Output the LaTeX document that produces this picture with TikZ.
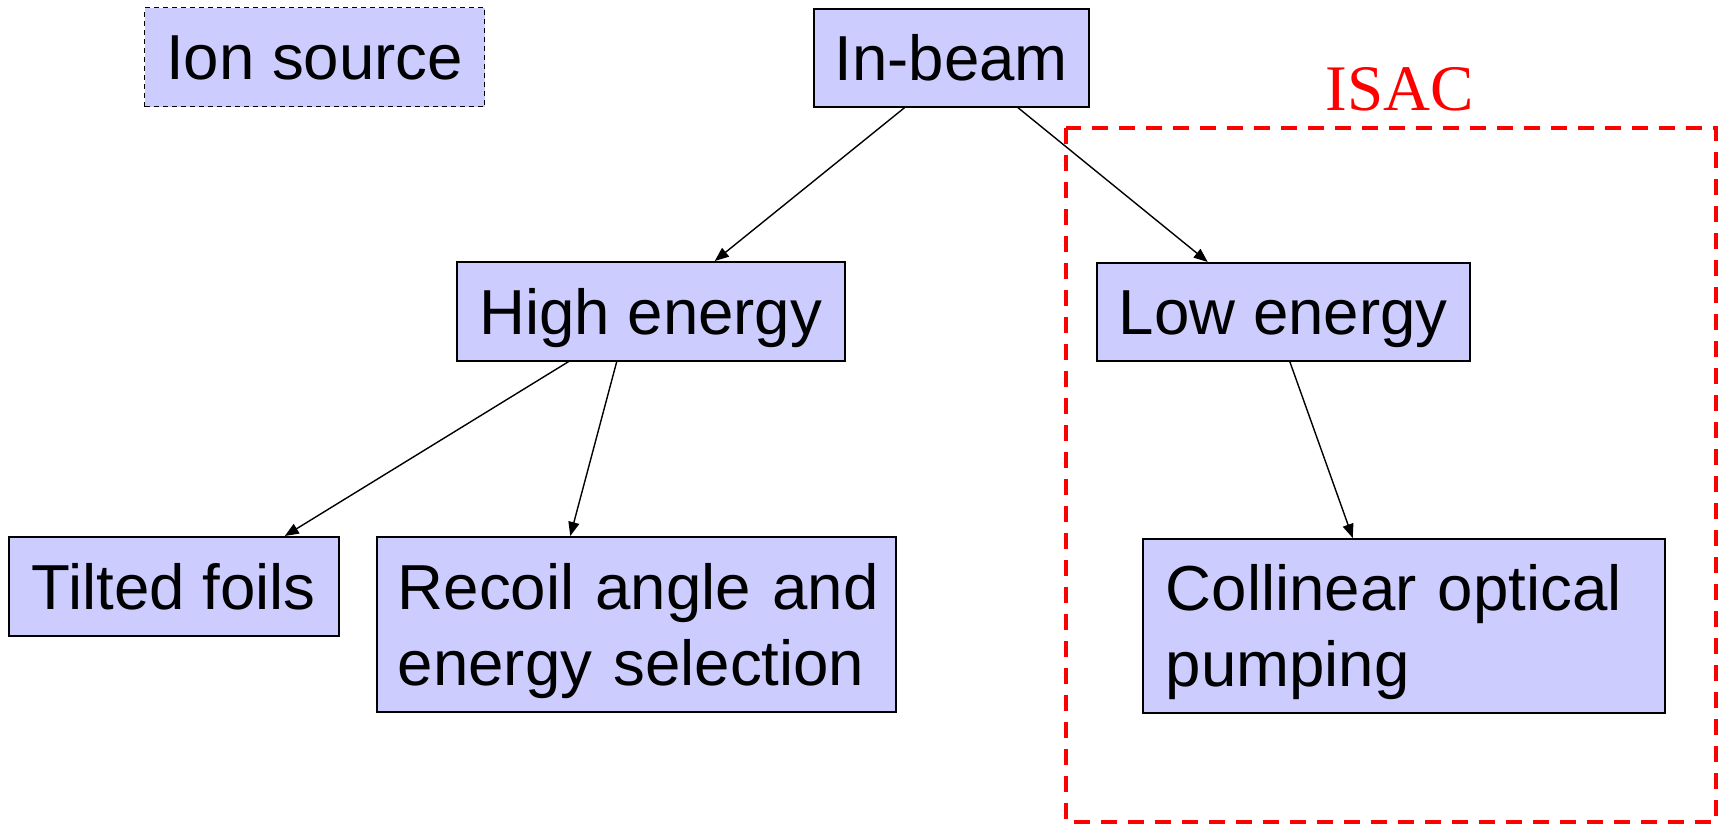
\documentclass[tikz,border=0pt]{standalone}
\usepackage{fontspec}
\setmainfont{Liberation Sans}
\newfontfamily\isacfont{Liberation Serif}
\usetikzlibrary{arrows.meta}
\definecolor{boxfill}{HTML}{CCCCFF}
\definecolor{isacred}{HTML}{FF0000}
\tikzset{
  boxnode/.style={draw=black, line width=0.75pt, fill=boxfill,
    font=\fontsize{31.8}{38}\selectfont, text height=22.8pt, text depth=0pt,
    inner sep=0pt, anchor=north west},
  twoline/.style={text depth=38pt, align=left},
  arr/.style={draw=black, line width=0.7pt, -{Triangle[length=7pt,width=5.5pt]}},
  isacbox/.style={draw=isacred, line width=1.6pt, dash pattern=on 8pt off 5.5pt},
}
\begin{document}
\begin{tikzpicture}[x=0.5pt,y=-0.5pt]
\useasboundingbox (0,0) rectangle (1722,825);
\node[boxnode, dash pattern=on 2.5pt off 2pt, line width=0.65pt, minimum width=170pt, minimum height=49.5pt] (ion) at (144,7) {Ion source};
\node[boxnode, minimum width=137.5pt, minimum height=49pt] (inbeam) at (813,8) {In-beam};
\node[boxnode, minimum width=194pt, minimum height=49.5pt] (high) at (456,261) {High energy};
\node[boxnode, minimum width=186.5pt, minimum height=49pt] (low) at (1096,262) {Low energy};
\node[boxnode, minimum width=165pt, minimum height=49.5pt] (tilted) at (8,536) {Tilted foils};
\node[boxnode, twoline, minimum width=259.5pt, minimum height=87.5pt, text width=259.5pt] (recoil) at (376,536) {\hspace*{10.5pt}Recoil angle and\\\hspace*{10.5pt}energy selection};
\node[boxnode, twoline, minimum width=261pt, minimum height=87pt, text width=261pt] (coll) at (1142,538) {\hspace*{11.5pt}Collinear optical\\\hspace*{11.5pt}pumping};
\coordinate (isacnw) at (1066,128);
\coordinate (isacse) at (1716,822);
\draw[isacbox] (isacnw) rectangle (isacse);
\node[anchor=base, text=isacred, font=\isacfont\fontsize{32.5}{38}\selectfont, inner sep=0pt] (isac) at (1400,110) {ISAC};
\draw[arr] ([xshift=-23.25pt]inbeam.south) -- ([xshift=32pt]high.north);
\draw[arr] ([xshift=33.25pt]inbeam.south) -- ([xshift=-37.75pt]low.north);
\draw[arr] ([xshift=-41pt]high.south) -- ([xshift=55.5pt]tilted.north);
\draw[arr] ([xshift=-17pt]high.south) -- ([xshift=-33pt]recoil.north);
\draw[arr] ([xshift=3.25pt]low.south) -- ([xshift=-25.5pt]coll.north);
\end{tikzpicture}
\end{document}
